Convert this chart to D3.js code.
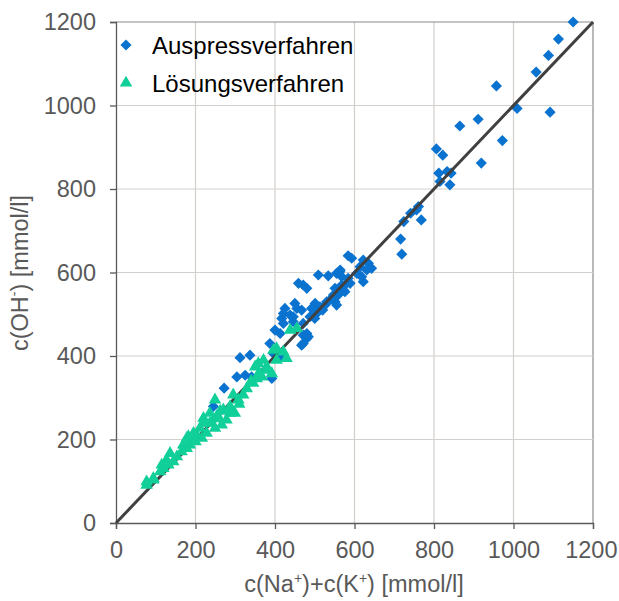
<!DOCTYPE html>
<html>
<head>
<meta charset="utf-8">
<script src="https://cdn.jsdelivr.net/npm/d3@7"></script>
<style>
  html, body { margin: 0; padding: 0; background: #fff; }
  svg { display: block; font-family: "Liberation Sans", Arial, sans-serif; }
</style>
</head>
<body>
<svg id="chart" width="619" height="601"></svg>
<script>
// Measured concentrations [mmol/l]: x = c(Na+)+c(K+), y = c(OH-)
const auspressX = [1150,1113,1088,1057,957,1009,1092,911,865,972,806,822,919,812,833,843,815,840,761,756,741,724,768,716,719,
  584,593,622,635,643,614,631,606,622,618,564,555,568,584,589,576,551,572,559,547,551,555,
  509,534,563,471,459,480,568,576,538,526,513,501,492,505,488,450,455,467,425,421,438,446,471,421,400,413,480,471,480,467,
  387,312,337,413,396,304,325,341,272,245,392,417,446,484,471,520,530,545,500];
const auspressY = [1200,1159,1120,1080,1047,993,984,967,951,916,896,881,862,838,842,838,818,810,758,750,742,722,726,680,644,
  640,634,630,622,610,614,606,598,578,590,606,598,590,586,574,570,562,558,546,546,530,522,
  594,592,602,570,574,562,570,554,534,522,518,526,514,502,494,526,514,510,514,502,498,482,478,478,462,454,454,450,442,426,
  430,396,402,398,406,350,354,350,323,279,346,490,494,446,430,510,530,540,490];

const loesungX = [438,455,404,421,429,358,371,350,379,392,367,354,345,329,320,308,295,249,287,270,236,220,299,287,253,236,220,211,
  203,190,178,169,165,153,136,127,115,144,178,186,216,228,249,266,278,132,119,111,94,77,94,77,182,396,404,360,340,380,310,260,200,240,195,262];
const loesungY = [462,466,418,410,394,382,390,374,374,358,350,346,335,322,307,295,307,295,279,271,263,251,263,263,255,239,239,227,
  211,199,203,187,171,159,167,151,139,147,179,187,203,215,227,235,247,139,131,123,107,99,103,91,207,414,390,360,340,366,285,250,195,240,215,268];

const seriesNames = ["Auspressverfahren", "Lösungsverfahren"];
const tickValues = [0, 200, 400, 600, 800, 1000, 1200];
const parity = [0, 1200];   // 1:1 line

const auspress = auspressX.map((x, i) => ({ x, y: auspressY[i] }));
const loesung = loesungX.map((x, i) => ({ x, y: loesungY[i] }));

const svg = d3.select("#chart");
const plotL = 116, plotR = 593, plotT = 22, plotB = 523;
const x = d3.scaleLinear().domain([0, 1200]).range([plotL, plotR]);
const y = d3.scaleLinear().domain([0, 1200]).range([plotB, plotT]);

const blue = "#0a73cf", green = "#10cf98", textGrey = "#595959";
const fontSize = 23.5;

// gridlines
const grid = svg.append("g");
grid.selectAll("line.v").data(tickValues.slice(1)).join("line").attr("class", "v")
  .attr("x1", d => x(d)).attr("x2", d => x(d)).attr("y1", plotT).attr("y2", plotB)
  .attr("stroke", d => d === 1200 ? "#8a8a8a" : "#d3cfcb").attr("stroke-width", 1.2);
grid.selectAll("line.h").data(tickValues.slice(1)).join("line").attr("class", "h")
  .attr("y1", d => y(d)).attr("y2", d => y(d)).attr("x1", plotL).attr("x2", plotR)
  .attr("stroke", d => d === 1200 ? "#8a8a8a" : "#d3cfcb").attr("stroke-width", 1.2);

// axes
const fmt = d3.format("d");
const xAxis = d3.axisBottom(x).tickValues(tickValues).tickFormat(fmt).tickSize(6).tickPadding(12);
const yAxis = d3.axisLeft(y).tickValues(tickValues).tickFormat(fmt).tickSize(6).tickPadding(14);
const gx = svg.append("g").attr("transform", `translate(0,${plotB})`).call(xAxis);
const gy = svg.append("g").attr("transform", `translate(${plotL},0)`).call(yAxis);
[gx, gy].forEach(g => {
  g.select(".domain").attr("stroke", "#595959").attr("stroke-width", 1.3);
  g.selectAll(".tick line").attr("stroke", "#595959").attr("stroke-width", 1.3);
  g.selectAll(".tick text").attr("fill", textGrey).attr("font-size", fontSize)
    .attr("font-family", "Liberation Sans, Arial, sans-serif");
});
// keep the last x label inside the canvas
gx.selectAll(".tick text").each(function(d) {
  const w = this.getComputedTextLength();
  const cx = x(d);
  const maxCx = 617 - w / 2;
  if (cx > maxCx) d3.select(this).attr("x", maxCx - cx);
});

// Auspressverfahren diamonds
const diamond = d3.symbol().type(d3.symbolSquare).size(62);
svg.append("g").selectAll("path").data(auspress).join("path")
  .attr("d", diamond)
  .attr("transform", d => `translate(${x(d.x)},${y(d.y)}) rotate(45)`)
  .attr("fill", blue);

// 1:1 line
svg.append("line")
  .attr("x1", x(parity[0])).attr("y1", y(parity[0]))
  .attr("x2", x(parity[1])).attr("y2", y(parity[1]))
  .attr("stroke", "#404040").attr("stroke-width", 3);

// Lösungsverfahren triangles
const tri = d3.symbol().type(d3.symbolTriangle).size(68);
svg.append("g").selectAll("path").data(loesung).join("path")
  .attr("d", tri)
  .attr("transform", d => `translate(${x(d.x)},${y(d.y)})`)
  .attr("fill", green);

// legend
const legend = svg.append("g");
legend.append("path").attr("d", diamond)
  .attr("transform", "translate(126,45) rotate(45)").attr("fill", blue);
legend.append("path").attr("d", tri).attr("transform", "translate(126,83)").attr("fill", green);
legend.selectAll("text").data(seriesNames).join("text")
  .attr("x", 152).attr("y", (d, i) => 54 + i * 38)
  .attr("font-size", 24).attr("fill", "#000").text(d => d);

// axis titles
const yt = svg.append("text").attr("transform", "translate(28,273) rotate(-90)")
  .attr("text-anchor", "middle").attr("font-size", fontSize).attr("fill", textGrey);
yt.append("tspan").text("c(OH");
yt.append("tspan").attr("font-size", 14).attr("dy", -9).text("-");
yt.append("tspan").attr("dy", 9).text(") [mmol/l]");

const xt = svg.append("text").attr("x", 354).attr("y", 592)
  .attr("text-anchor", "middle").attr("font-size", fontSize).attr("fill", textGrey);
xt.append("tspan").text("c(Na");
xt.append("tspan").attr("font-size", 14).attr("dy", -9).text("+");
xt.append("tspan").attr("dy", 9).text(")+c(K");
xt.append("tspan").attr("font-size", 14).attr("dy", -9).text("+");
xt.append("tspan").attr("dy", 9).text(") [mmol/l]");
</script>
</body>
</html>
